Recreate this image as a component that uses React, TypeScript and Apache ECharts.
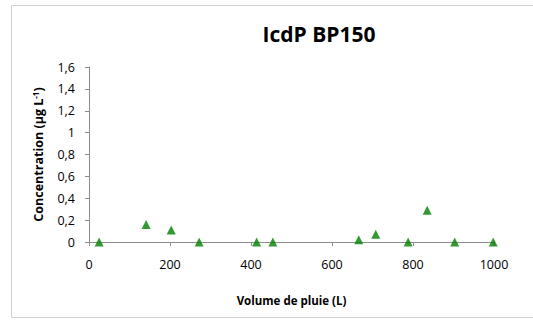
import React, { useEffect, useRef } from "react";
import * as echarts from "echarts";

const volumes = [25, 141, 203, 272, 414, 454, 666, 708, 788, 835, 903, 998];
const concentrations = [0, 0.16, 0.11, 0, 0, 0, 0.02, 0.07, 0, 0.29, 0, 0];
const titleText = "IcdP BP150";
const xName = "Volume de pluie (L)";

export default function App() {
  const ref = useRef<HTMLDivElement>(null);
  useEffect(() => {
    document.body.style.margin = "0";
    const chart = echarts.init(ref.current!, null, { renderer: "svg" });
    const font = "'Open Sans', 'Noto Sans', sans-serif";
    chart.setOption({
      animation: false,
      backgroundColor: "#ffffff",
      textStyle: { fontFamily: font },
      title: {
        text: titleText,
        left: 314,
        top: 18,
        textAlign: "center",
        textStyle: { fontSize: 21, fontWeight: "bold", color: "#000", fontFamily: font },
      },
      graphic: [
        {
          type: "rect",
          shape: { x: 11.5, y: 5.5, width: 530, height: 312 },
          style: { fill: "none", stroke: "#d0d0d0", lineWidth: 1 },
          silent: true,
        },
      ],
      grid: { left: 89, right: 39, top: 67, bottom: 78 },
      xAxis: {
        type: "value",
        min: 0,
        max: 1000,
        interval: 200,
        name: xName,
        nameLocation: "middle",
        nameGap: 52,
        nameTextStyle: { fontSize: 11.5, fontWeight: "bold", color: "#000", fontFamily: font },
        axisLine: { show: true, lineStyle: { color: "#8c8c8c", width: 1 } },
        axisTick: { show: true, length: 4, lineStyle: { color: "#8c8c8c" } },
        axisLabel: {
          fontSize: 12.5,
          color: "#000",
          margin: 16,
          fontFamily: font,
          formatter: (v: number) => String(v),
        },
        splitLine: { show: false },
      },
      yAxis: {
        type: "value",
        min: 0,
        max: 1.6,
        interval: 0.2,
        name: "Concentration (µg L{sup|-1})",
        nameLocation: "middle",
        nameGap: 44,
        nameRotate: 90,
        nameTextStyle: {
          fontSize: 12.5,
          fontWeight: "bold",
          color: "#000",
          fontFamily: font,
          rich: {
            sup: { fontSize: 8, fontWeight: "bold", verticalAlign: "top", padding: [0, 0, 6, 0], fontFamily: font, color: "#000" },
          },
        },
        axisLine: { show: true, lineStyle: { color: "#8c8c8c", width: 1 } },
        axisTick: { show: true, length: 4, lineStyle: { color: "#8c8c8c" } },
        axisLabel: {
          fontSize: 12.5,
          color: "#000",
          margin: 14,
          fontFamily: font,
          formatter: (v: number) => String(Number(v.toFixed(1))).replace(".", ","),
        },
        splitLine: { show: false },
      },
      series: [
        {
          type: "scatter",
          data: volumes.map((v, i) => [v, concentrations[i]]),
          symbol: "triangle",
          symbolSize: 9,
          itemStyle: { color: "#008000" },
        },
      ],
    });
    return () => chart.dispose();
  }, []);
  return <div ref={ref} style={{ width: 533, height: 320 }} />;
}
